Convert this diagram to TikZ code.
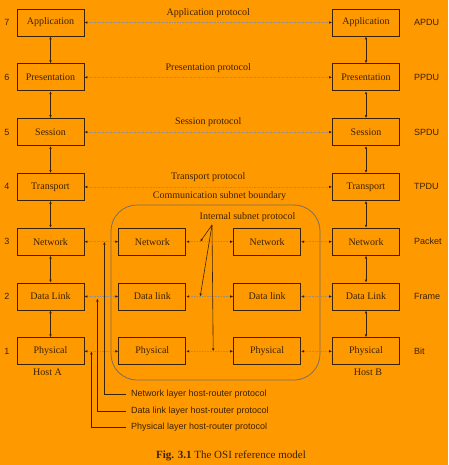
\documentclass[tikz,border=0pt]{standalone}
\usepackage{fontspec}
\setmainfont{Liberation Serif}
\setsansfont{Liberation Sans}
\usetikzlibrary{positioning, calc, arrows.meta}
\definecolor{osibg}{HTML}{FF9900}
\definecolor{osiline}{HTML}{3A2200}
\definecolor{osipeer}{HTML}{9C8C78}
\definecolor{osirim}{HTML}{7C6E60}

\begin{document}
\begin{tikzpicture}[x=1pt, y=1pt, font=\fontsize{10}{12}\selectfont, text=osiline,
                    layer/.style={draw=osiline, line width=0.8pt, minimum width=67pt, minimum height=27pt, inner sep=0pt},
                    peer/.style={densely dotted, draw=osipeer, line width=0.6pt, {Latex[length=3pt, width=2.6pt, color=osiline]}-{Latex[length=3pt, width=2.6pt, color=osiline]}},
                    stack/.style={draw=osiline, line width=0.7pt, {Latex[length=3pt, width=2.6pt]}-{Latex[length=3pt, width=2.6pt]}},
                    pointer/.style={draw=osiline, line width=0.6pt, -{Latex[length=3pt, width=2.6pt]}},
                    tag/.style={font=\sffamily\fontsize{9}{11}\selectfont, inner sep=1pt},
                    hostproto/.style={font=\sffamily\fontsize{9}{11}\selectfont, anchor=west, inner sep=5pt}]
                        \path[use as bounding box, fill=osibg] (0,0) rectangle (448,-465);
                        \node[layer] (app a) at (50.5,-22.5) {Application};
                        \node[layer, below=27pt of app a] (pre a) {Presentation};
                        \node[layer, below=27pt of pre a] (ses a) {Session};
                        \node[layer, below=27pt of ses a] (tra a) {Transport};
                        \node[layer, below=27pt of tra a] (net a) {Network};
                        \node[layer, below=27pt of net a] (dl a) {Data Link};
                        \node[layer, below=27pt of dl a] (phy a) {Physical};
                        \node[layer] (app b) at (366,-22.5) {Application};
                        \node[layer, below=27pt of app b] (pre b) {Presentation};
                        \node[layer, below=27pt of pre b] (ses b) {Session};
                        \node[layer, below=27pt of ses b] (tra b) {Transport};
                        \node[layer, below=27pt of tra b] (net b) {Network};
                        \node[layer, below=27pt of net b] (dl b) {Data Link};
                        \node[layer, below=27pt of dl b] (phy b) {Physical};
                        \node[layer, right=34pt of net a] (net r1) {Network};
                        \node[layer, right=47pt of net r1] (net r2) {Network};
                        \node[layer, right=34pt of dl a] (dl r1) {Data link};
                        \node[layer, right=47pt of dl r1] (dl r2) {Data link};
                        \node[layer, right=34pt of phy a] (phy r1) {Physical};
                        \node[layer, right=47pt of phy r1] (phy r2) {Physical};
                        \node[draw=osirim, line width=0.8pt, rounded corners=26pt, minimum width=209pt, minimum height=175pt] (subnet) at (215.5,-292.5) {};
                        \node[above=0pt of subnet.north, xshift=4pt] (subnet lbl) {Communication subnet boundary};
                        \node (isp lbl) at (247.5,-217) {Internal subnet protocol};
                        \node[tag, left=6pt of app a] (n7) {7};
                        \node[tag, left=6pt of pre a] (n6) {6};
                        \node[tag, left=6pt of ses a] (n5) {5};
                        \node[tag, left=6pt of tra a] (n4) {4};
                        \node[tag, left=6pt of net a] (n3) {3};
                        \node[tag, left=6pt of dl a] (n2) {2};
                        \node[tag, left=6pt of phy a] (n1) {1};
                        \node[tag, right=13pt of app b] (apdu) {APDU};
                        \node[tag, right=13pt of pre b] (ppdu) {PPDU};
                        \node[tag, right=13pt of ses b] (spdu) {SPDU};
                        \node[tag, right=13pt of tra b] (tpdu) {TPDU};
                        \node[tag, right=13pt of net b] (packet) {Packet};
                        \node[tag, right=13pt of dl b] (frame) {Frame};
                        \node[tag, right=13pt of phy b] (bit) {Bit};
                        \node[below=0pt of phy a, xshift=-3pt] (host a) {Host A};
                        \node[below=0pt of phy b, xshift=2pt] (host b) {Host B};
                        \node[hostproto] (nl proto) at (126,-394) {Network layer host-router protocol};
                        \node[hostproto] (dl proto) at (126,-411) {Data link layer host-router protocol};
                        \node[hostproto] (pl proto) at (126,-427) {Physical layer host-router protocol};
                        \node[font=\fontsize{11}{13}\selectfont] (caption) at (231,-456) {\textbf{Fig. 3.1} The OSI reference model};
                        \draw[peer] (app a) -- node[above=1pt] (app proto) {Application protocol} (app b);
                        \draw[peer] (pre a) -- node[above=1pt] (pre proto) {Presentation protocol} (pre b);
                        \draw[peer] (ses a) -- node[above=2pt] (ses proto) {Session protocol} (ses b);
                        \draw[peer] (tra a) -- node[above=2pt] (tra proto) {Transport protocol} (tra b);
                        \draw[peer] (net a) -- (net r1);
                        \draw[peer] (net r1) -- (net r2);
                        \draw[peer] (net r2) -- (net b);
                        \draw[peer] (dl a) -- (dl r1);
                        \draw[peer] (dl r1) -- (dl r2);
                        \draw[peer] (dl r2) -- (dl b);
                        \draw[peer] (phy a) -- (phy r1);
                        \draw[peer] (phy r1) -- (phy r2);
                        \draw[peer] (phy r2) -- (phy b);
                        \draw[stack] (app a) -- (pre a);
                        \draw[stack] (pre a) -- (ses a);
                        \draw[stack] (ses a) -- (tra a);
                        \draw[stack] (tra a) -- (net a);
                        \draw[stack] (net a) -- (dl a);
                        \draw[stack] (dl a) -- (phy a);
                        \draw[stack] (app b) -- (pre b);
                        \draw[stack] (pre b) -- (ses b);
                        \draw[stack] (ses b) -- (tra b);
                        \draw[stack] (tra b) -- (net b);
                        \draw[stack] (net b) -- (dl b);
                        \draw[stack] (dl b) -- (phy b);
                        \coordinate (isp) at (212,-225);
                        \coordinate (isp net) at ([xshift=14pt]net r1.east);
                        \coordinate (isp dl) at ([xshift=14pt]dl r1.east);
                        \coordinate (isp phy) at ([xshift=27pt]phy r1.east);
                        \draw[pointer] (isp) -- (isp net);
                        \draw[pointer] (isp) -- (isp dl);
                        \draw[pointer] (isp) -- (isp phy);
                        \coordinate (nl end) at ([xshift=20pt]net a.east);
                        \coordinate (dl end) at ([xshift=13pt, yshift=-2pt]dl a.east);
                        \coordinate (pl end) at ([xshift=7pt]phy a.east);
                        \draw[pointer] (nl proto.west) -| (nl end);
                        \draw[pointer] (dl proto.west) -| (dl end);
                        \draw[pointer] (pl proto.west) -| (pl end);
                    \end{tikzpicture}
\end{document}
